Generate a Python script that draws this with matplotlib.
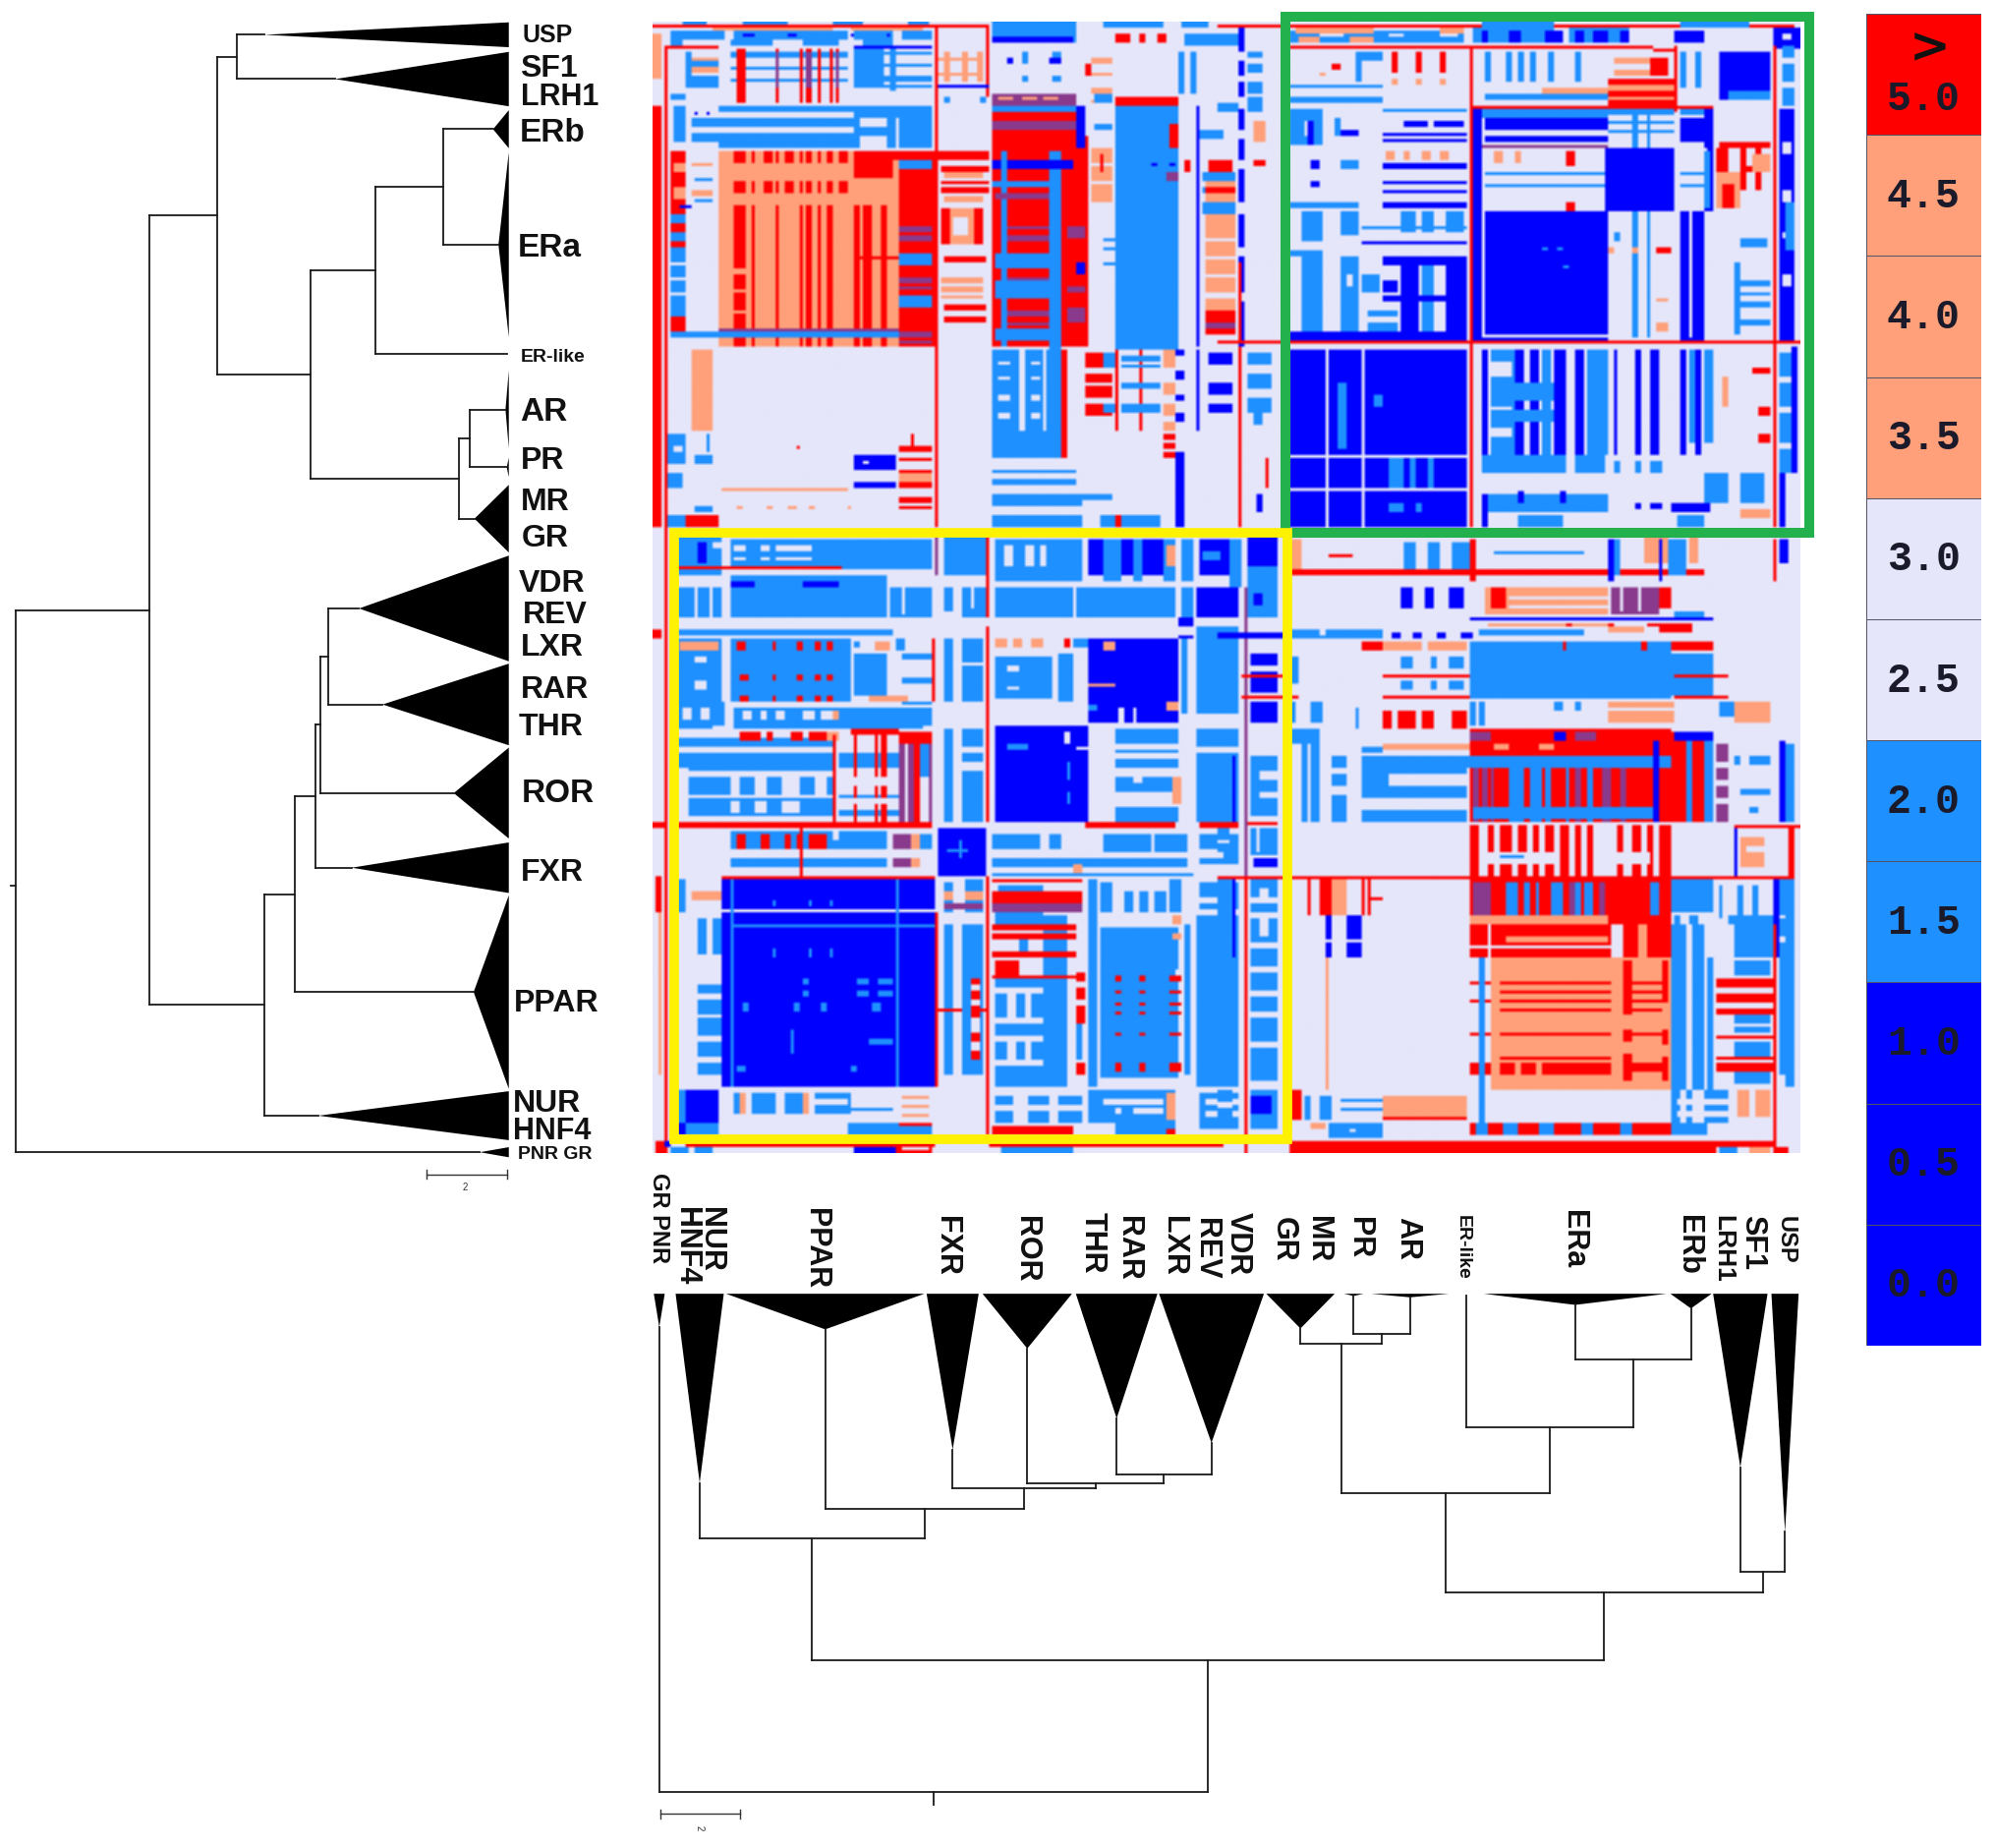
#!/usr/bin/env python3
# Distance matrix of nuclear receptor sequences with the two collapsed trees
import numpy as np
import matplotlib
matplotlib.use('Agg')
import matplotlib.pyplot as plt
from matplotlib.colors import ListedColormap, BoundaryNorm
from matplotlib.patches import Rectangle

FIG_W, FIG_H = 2031, 1881
N_ROWS, N_COLS = 376, 382

clade_names = ['USP', 'SF1', 'ERb', 'ERa', 'ERL', 'AR', 'PR', 'GR', 'VDR', 'RAR',
               'ROR', 'FXR', 'PPAR', 'NUR', 'PNR']
left_lo = [30, 68, 143, 197, 457, 478, 590, 625, 716, 855, 963, 1085, 1153, 1405, 1477]
left_hi = [62, 138, 192, 435, 457, 578, 615, 712, 852, 960, 1080, 1150, 1402, 1468, 1490]
left_tip = [640, 810, 1192, 1205, 1225, 1222, 1225, 1147, 868, 925, 1097, 850, 1145, 770, 1160]
bottom_lo = [1470, 1395, 1340, 1100, 1077, 955, 920, 820, 682, 575, 455, 383, 125, 60, 32]
bottom_hi = [1505, 1465, 1393, 1335, 1077, 1055, 945, 908, 817, 680, 570, 450, 380, 122, 46]
bottom_tip = [860, 715, 358, 350, 330, 333, 330, 403, 660, 605, 448, 675, 405, 750, 400]

# internal nodes: (depth on left tree, depth on bottom tree, child, child)
node_mid = (793, 732, 'VDR', 'RAR')
node_ror = (775, 750, node_mid, 'ROR')
node_fxr = (762, 762, node_ror, 'FXR')
node_ppar = (712, 808, node_fxr, 'PPAR')
node_nur = (638, 875, node_ppar, 'NUR')
node_er = (1072, 473, 'ERb', 'ERa')
node_erl = (908, 625, node_er, 'ERL')
node_ar = (1135, 415, 'AR', 'PR')
node_gr = (1110, 437, node_ar, 'GR')
node_ster = (750, 772, node_erl, node_gr)
node_usp = (572, 950, 'USP', 'SF1')
node_upper = (525, 995, node_usp, node_ster)
node_all = (360, 1148, node_upper, node_nur)
tree_root = (38, 1445, node_all, 'PNR')

left_labels = ['USP', 'SF1', 'LRH1', 'ERb', 'ERa', 'ER-like', 'AR', 'PR', 'MR', 'GR', 'VDR',
               'REV', 'LXR', 'RAR', 'THR', 'ROR', 'FXR', 'PPAR', 'NUR', 'HNF4', 'PNR GR']
left_label_x = [1262, 1256, 1258, 1256, 1252, 1258, 1256, 1258, 1260, 1260, 1254,
                1264, 1258, 1260, 1254, 1260, 1260, 1243, 1240, 1240, 1253]
left_label_y = [46, 88, 125, 171, 319, 460, 531, 593, 646, 693, 751,
                792, 833, 888, 936, 1021, 1123, 1291, 1420, 1455, 1485]
left_label_size = [18, 23, 22, 24, 24, 14, 24, 23, 23, 23, 23, 23, 23, 23, 23, 24, 23, 23, 23, 22, 14]

bottom_labels = ['GR PNR', 'NUR', 'HNF4', 'PPAR', 'FXR', 'ROR', 'THR', 'RAR', 'LXR', 'REV', 'VDR',
                 'GR', 'MR', 'PR', 'AR', 'ER-like', 'ERa', 'ERb', 'LRH1', 'SF1', 'USP']
bottom_label_x = [38, 105, 73, 240, 408, 511, 597, 643, 700, 742, 784,
                  842, 886, 940, 1002, 1073, 1215, 1363, 1408, 1446, 1488]
bottom_label_y = [50, 127, 127, 130, 148, 148, 140, 148, 148, 152, 140,
                  150, 148, 150, 150, 145, 135, 145, 145, 145, 148]
bottom_label_size = [17, 22, 22, 22, 22, 22, 22, 22, 22, 22, 22, 22, 22, 22, 22, 14, 22, 22, 19, 22, 17]

# ---- colour scale
level_codes = ['B', 'S', 'L', 'O', 'P', 'R']
level_colors = ['#0000FF', '#1E90FF', '#E6E6FA', '#FFA07A', '#8A3A8C', '#FF0000']
scale_labels = ['0.0', '0.5', '1.0', '1.5', '2.0', '2.5', '3.0', '3.5', '4.0', '4.5', '5.0']
scale_levels = ['B', 'B', 'B', 'S', 'S', 'L', 'L', 'O', 'O', 'O', 'R']

# ---- matrix, run-length style: (level, row ranges, column ranges), later entries win
heat_top_left = [
    ('R', '28-168', '0-3'), ('O', '4-19', '0-3'), ('R', '8-376', '4-5'), ('R', '1-2', '0-112'),
    ('R', '8-9', '4-22'), ('S', '3-6', '6-24 27-65 67-80 83-93'), ('B', '4-5', '30-34 45-48 66-67 78-79'),
    ('R', '1-168', '94-95'), ('R', '1-25', '111-112'), ('B', '21-22', '95-112'),
    ('S', '10-18', '11-13'), ('O', '12-13 15-17', '13-22'), ('S', '13-15 18-22', '11-22'), ('S', '24-26', '6-11'),
    ('S', '10-12 15-16 19-20', '26-65'), ('R', '9-27', '28-31 41-42 49-50 51-53 55-56 59-60 61-62'),
    ('P', '10-22', '41-42 51-53 61-62'), ('S', '9-22', '67-77'), ('B', '8-9', '67-93'),
    ('S', '10-11 14-15 18-20 21-22', '77-93'), ('S', '9-23', '79-81'), ('O', '10-20', '97-99 103-105 108-110'),
    ('O', '12-13 17-18', '95-110'),
    ('S', '28-30 32-35 37-42', '22-67'), ('S', '28-32', '67-93'), ('S', '28-42', '67-69 78-81 82-93'),
    ('S', '35-38', '69-78'), ('S', '28-40', '7-11'), ('S', '32-35 37-40', '13-22'), ('B', '30-31', '14-15 18-19'),
    ('S', '25-27', '97-99 109-111'),
    ('P', '24-28', '113-141'), ('O', '25-26', '115-120 123-128 130-135'), ('S', '28-30', '113-141'),
    ('R', '30-33 36-46', '113-141'), ('P', '33-36', '113-141'), ('S', '41-43', '113-120'), ('R', '38-46', '113-145'),
    ('B', '28-42', '141-144'),
    ('O', '43-108', '22-82'), ('R', '43-47 53-57', '27-31 33-34 37-40 41-42 44-47 49-50 51-53 55-56 58-60 62-65'),
    ('R', '43-52', '67-80'), ('R', '43-46', '79-112'), ('R', '61-108', '27-31 33-34 41-42 49-50 51-53 55-56 58-60 67-69 70-73 76-78'),
    ('O', '82-84 89-90 96-97', '27-31'), ('R', '78-79', '67-82'),
    ('R', '43-108', '82-94'), ('S', '46-49 77-81 91-95', '82-93'), ('P', '68-70 71-73 85-87 88-89 103-105 106-107', '82-93'),
    ('P', '102-103', '22-82'), ('S', '103-105', '6-82'),
    ('R', '43-62', '6-11'), ('O', '47-50 55-59', '7-11'), ('R', '62-75', '6-11'), ('S', '64-67 70-73', '6-11'),
    ('S', '75-98', '6-11'), ('L', '80-81 85-86 90-91', '6-11'), ('R', '98-103', '6-11'), ('O', '47-48 56-58', '13-20'),
    ('S', '59-60 52-53', '14-20'), ('B', '61-62', '9-13'),
    ('R', '48-50 53-54 55-57', '96-112'), ('O', '50-52 58-60', '97-110'), ('R', '62-74', '96-99 107-110'), ('O', '62-74', '99-107'),
    ('L', '65-71', '100-105'), ('R', '78-80 94-96 98-100', '97-111'), ('O', '85-92', '96-110'), ('L', '87-88 90-91', '96-110'),
    ('S', '48-106', '118-119'),
    ('R', '43-108', '113-145'), ('B', '46-49', '113-140'), ('S', '43-108', '116-118'), ('P', '68-69 71-73 85-87 96-98 100-101', '118-132'),
    ('S', '77-82 86-92 102-106', '114-132'), ('S', '53-55', '113-132'), ('P', '57-59', '114-132'),
    ('S', '43-145', '132-136'), ('B', '46-49', '132-140'), ('P', '68-72 88-90 95-100', '138-144'), ('B', '80-84', '141-144'),
    ('O', '42-60', '146-153'), ('L', '47-48 53-54', '146-153'), ('R', '44-50', '149-150'), ('S', '72-73 75-76 80-81', '150-154'),
    ('O', '12-14 17-18 22-24 26-27', '146-153'), ('R', '14-18', '144-146'), ('S', '24-27 34-36', '147-153'),
    ('S', '28-109', '154-175'), ('R', '25-28', '154-175'), ('B', '47-48', '166-168 172-174'), ('P', '50-53', '171-175'),
    ('S', '10-24', '175-177 179-181'), ('B', '28-108', '181-182'), ('S', '36-39', '182-190'),
    ('R', '46-50', '177-179 185-193'), ('O', '50-100', '184-194'), ('S', '50-53 55-57 60-64', '183-194'), ('R', '55-57 96-104', '184-194'),
    ('L', '72-73 78-79 84-85 90-92', '184-194'), ('P', '100-102', '184-194'), ('R', '34-42', '172-175'),
    ('S', '0-7', '113-141'), ('B', '5-7', '113-140'), ('S', '10-14 18-20', '123-125 133-136'), ('B', '12-14', '118-120 132-136'),
    ('S', '4-8', '177-195'), ('R', '4-7', '154-159 162-164 168-171'),
    ('O', '109-136', '13-20'), ('S', '137-147', '5-11'), ('L', '141-143', '7-10'), ('S', '137-143', '18-19'), ('S', '144-147', '14-20'),
    ('S', '150-155', '5-10'), ('S', '161-163', '14-20'), ('S', '164-168', '5-11'), ('R', '164-168', '11-22'),
    ('B', '144-149', '67-81'), ('L', '146-147', '70-72'), ('B', '153-155', '67-81'), ('O', '155-156', '23-65'),
    ('R', '141-143 145-146 149-150 153-155 158-160 161-162', '82-93'), ('O', '150-153', '82-93'), ('R', '137-141', '86-87'),
    ('R', '141-142', '48-49'), ('O', '161-162', '28-30 38-40 45-48 52-54 65-66'),
    ('S', '109-145', '113-122 124-130 131-136'), ('L', '113-114 118-119 124-126 130-132 136-138', '115-119 126-129'),
    ('S', '136-145', '113-136'), ('R', '109-145', '136-138'),
    ('S', '149-150 152-154', '113-141'), ('L', '151-152', '113-130'), ('S', '157-161', '113-143'), ('S', '157-159', '143-153'),
    ('S', '164-168', '113-143 149-169'), ('R', '164-168', '154-156'),
    ('R', '110-115 117-120 121-125 127-131', '144-153'), ('S', '110-115', '150-154'), ('R', '109-136', '154-155 162-163'),
    ('S', '111-113 114-115 120-122 127-130', '156-169'), ('S', '127-130', '150-154'),
    ('O', '109-136', '170-174'), ('L', '115-120 124-127 131-133', '170-174'), ('R', '137-145', '170-174'), ('L', '139-140 142-143', '170-174'),
    ('B', '109-111 116-119 124-126 130-133 143-168', '174-177'), ('B', '110-114 120-124 127-130', '185-193'),
    ('B', '109-136', '181-182'),
    # first rows below the yellow frame top
    ('S', '171-184', '8-23'), ('B', '173-180', '15-18'), ('L', '173-175', '20-23'), ('S', '172-182', '26-93'),
    ('L', '174-176 178-179', '27-31 36-39 41-53'), ('R', '181-182', '8-63'), ('P', '171-184', '94-95'),
    ('S', '171-184', '97-111'), ('S', '172-186', '114-143'), ('L', '174-181', '117-120 124-127 129-131'), ('B', '172-184', '145-150 156-160 163-170'),
    ('S', '172-186', '150-156 160-163 170-174'), ('O', '174-181', '171-174'), ('S', '172-186', '176-180'),
    ('B', '172-184', '182-195'), ('S', '176-179', '183-194'), ('S', '184-199', '26-78'), ('R', '171-205', '111-112'),
]

heat_top_right = [
    ('R', '8-9', '212-333'), ('R', '9-10', '333-341'), ('R', '1-2', '188-380'), ('S', '3-7', '212-270'), ('L', '4-5', '222-230 245-250 262-268'),
    ('O', '5-7', '215-222 232-240'), ('S', '2-7', '273-300 305-325'), ('B', '3-7', '276-278 285-289 297-303 307-310 313-318 322-325 340-350'),
    ('B', '2-9', '373-382'), ('L', '4-6', '376-379'), ('R', '8-168', '272-273'), ('R', '8-30', '340-341'), ('R', '28-29', '273-353'),
    ('B', '10-26', '355-372'), ('S', '22-26', '358-372'), ('B', '10-23', '358-372'), ('R', '8-168', '373-374'),
    ('R', '19-28', '318-340'), ('O', '21-23 25-26', '318-340'), ('R', '12-18', '332-338'), ('O', '12-14 16-18', '320-332'), ('O', '22-24', '296-318'),
    ('S', '10-20', '277-279 284-286 288-290 292-294 298-300 307-309'), ('S', '24-26', '277-318'), ('S', '10-22', '342-344 347-349'),
    ('S', '10-13', '234-243'), ('S', '21-22', '212-243'), ('S', '25-27', '212-243'), ('S', '10-20', '234-236'), ('R', '10-17', '246-248 254-256 262-264'),
    ('O', '17-18', '222-224'), ('R', '14-16', '226-229'), ('O', '19-21', '246-248 254-256 262-264'),
    ('S', '10-30', '198-203'), ('L', '12-14 17-20 24-25', '198-203'), ('B', '2-108', '195-197'), ('L', '10-13 18-20 25-29 36-39 46-49 60-64 75-78 90-93', '195-197'),
    ('O', '33-40', '200-204'), ('R', '46-48', '200-204'), ('S', '27-30', '188-195'),
    ('S', '29-41', '212-223'), ('L', '33-38', '217-219'), ('B', '33-41', '218-220'), ('S', '32-38', '227-229'), ('B', '36-38', '229-235'),
    ('B', '33-35', '250-258 260-270'), ('B', '37-40', '243-271'), ('S', '29-30', '243-271'), ('L', '38-39', '243-271'),
    ('B', '29-106', '273-276'), ('S', '29-32', '276-318'), ('B', '32-36 38-40', '277-318'), ('L', '36-38', '279-318'), ('P', '41-42', '276-318'),
    ('S', '29-31', '318-340'), ('S', '33-34 36-37', '318-340'), ('S', '29-42', '326-328 331-332'), ('B', '32-40', '342-350'), ('S', '29-31', '342-350'),
    ('B', '29-63', '350-353'), ('L', '42-60', '350-351'), ('R', '40-42', '355-372'),
    ('B', '47-49', '243-271'), ('B', '53-54 56-57 60-62', '243-271'), ('O', '43-46', '244-247 250-252 256-259 262-265'), ('B', '46-49', '219-222'),
    ('S', '46-49', '229-235'), ('B', '53-55', '219-222'), ('S', '60-62', '212-235'),
    ('B', '42-63', '317-340'), ('S', '50-51 54-55', '277-317'), ('R', '43-48 60-63', '304-307'), ('O', '43-47', '280-283 287-289'),
    ('S', '43-62', '350-352'), ('S', '50-51 54-55', '342-350'),
    ('R', '42-50', '354-358'), ('O', '50-62', '354-362'), ('R', '54-62', '356-360'), ('R', '42-56', '362-364 367-369'), ('R', '48-50', '362-372'),
    ('O', '44-50', '366-372'), ('B', '29-106', '375-380'), ('L', '40-44 56-60 70-72 84-88', '376-379'),
    ('S', '63-103', '216-223'), ('L', '73-76', '216-223'), ('S', '63-71', '229-235'), ('S', '78-103', '229-235'), ('L', '84-88', '231-233'),
    ('S', '68-69', '236-271'), ('B', '73-74', '236-271'), ('S', '63-70', '249-254 256-260 264-270'), ('B', '78-81', '243-271'), ('S', '76-78', '212-220'),
    ('B', '81-103', '249-255 264-271'), ('S', '81-103', '256-260'), ('B', '91-93', '243-271'), ('S', '96-98 100-103', '238-248'), ('L', '87-89', '240-248'),
    ('B', '86-90', '243-248'), ('B', '103-106', '212-271'), ('S', '84-90', '236-242'),
    ('B', '63-107', '276-318'), ('L', '63-105', '276-277'), ('L', '104-105', '277-318'), ('S', '75-76', '296-298 301-303'), ('S', '81-82', '303-305'),
    ('S', '63-105', '326-328 331-332'), ('B', '63-107', '342-350'), ('L', '63-105', '345-346'), ('S', '70-73', '320-322'), ('R', '75-77', '334-339'), ('O', '75-77', '318-320 326-328'),
    ('O', '92-93 100-103', '334-338'), ('S', '72-75', '362-371'), ('S', '86-88 90-91 93-95 99-101', '362-372'), ('S', '80-104', '360-362'),
    ('R', '106-107', '188-382'), ('R', '80-106', '195-196'),
    ('B', '109-168', '212-271'), ('L', '109-168', '224-225 236-237'), ('L', '155-156', '212-271'), ('S', '144-155', '245-250 252-254 258-260'),
    ('S', '120-142', '228-231'), ('S', '124-128', '240-243'), ('S', '160-163', '245-250 254-256'), ('L', '144-145', '212-271'),
    ('B', '109-144', '276-278 287-290 292-295 300-304 307-310'), ('S', '109-144', '279-287 296-299 311-318'), ('L', '113-118 128-131 135-138', '279-286'),
    ('S', '120-126 129-133', '279-300'), ('B', '109-144', '320-321 327-329 332-335 342-344 347-349'), ('S', '109-140', '345-347 350-353'),
    ('S', '144-150', '276-304 307-317'), ('S', '146-150', '320-322 327-329 332-336'), ('B', '160-162', '327-329 332-336'),
    ('S', '157-163', '276-318'), ('B', '156-160', '288-290 302-304'), ('S', '164-168', '288-303'), ('B', '157-168', '276-278'), ('B', '160-163', '339-352'),
    ('S', '164-168', '341-350'), ('S', '110-150', '375-380'), ('L', '118-120 128-130 140-142', '375-380'), ('B', '150-168', '375-377'), ('R', '108-168', '373-374'),
    ('O', '118-128', '356-358'), ('R', '128-131 137-140', '368-372'), ('R', '115-117', '366-372'),
    ('O', '162-165', '362-372'), ('S', '150-160', '350-358 362-370'), ('R', '145-155', '204-205'), ('R', '108-168', '195-196'),
    ('S', '110-130', '198-206'), ('L', '114-117 122-125', '198-206'), ('S', '125-134', '200-203'), ('B', '157-163', '201-203'),
    # rows just under the green frame
    ('R', '177-178', '225-233'), ('O', '172-182', '212-216'), ('R', '182-184', '212-350'), ('R', '172-186', '272-274'),
    ('S', '173-177', '250-254 258-262 266-272'), ('S', '176-182', '250-254 258-262 266-272'), ('S', '176-177', '280-310'),
    ('O', '171-180', '330-338 345-348'), ('S', '172-184', '320-322 338-344'), ('B', '172-186', '318-320 335-336'), ('R', '172-186', '373-374'), ('B', '172-180', '375-378'),
    ('B', '171-181', '198-208'), ('S', '181-188', '198-208'), ('B', '172-183', '189-192'), ('S', '172-188', '192-196'),
]

heat_bottom_left = [
    ('S', '188-199', '8-23'), ('L', '188-199', '14-15 19-20'), ('S', '188-199', '26-78 79-93'), ('L', '188-197', '83-84'), ('S', '188-196', '97-100'),
    ('S', '188-198', '103-111'), ('L', '188-195', '106-107'), ('S', '188-198', '114-140 141-174'), ('B', '188-198', '181-195'), ('S', '188-198', '176-180'),
    ('B', '198-205', '175-180'), ('L', '201-204', '175-180'), ('S', '202-204', '8-80'), ('R', '202-205', '0-3'),
    ('R', '205-266', '111-112'), ('S', '205-226', '26-66'), ('S', '205-226', '8-23'), ('L', '211-213 219-222', '14-18'), ('O', '206-209', '9-22'),
    ('R', '206-209', '28-31 40-41 48-50 54-56 58-60'), ('R', '217-219 224-226', '29-32 40-41 48-50 54-56 58-60'), ('O', '206-209', '74-79'),
    ('S', '210-224', '67-78'), ('S', '206-208', '67-69'), ('S', '205-209', '81-84'), ('S', '210-212 218-220 226-227', '83-93'), ('O', '224-226', '72-85'),
    ('R', '205-226', '93-94'), ('S', '205-226', '97-100'), ('S', '205-226', '103-110'), ('L', '213-214', '103-110'),
    ('O', '205-208', '114-118 120-123 126-130'), ('R', '205-208', '137-139'), ('S', '205-208', '140-145'), ('S', '211-225', '114-133'), ('L', '214-216 221-222', '118-122'),
    ('S', '210-226', '135-140'), ('S', '205-230', '176-178'), ('S', '201-230', '181-195'),
    ('S', '226-234', '8-24'), ('L', '228-233', '10-13 16-19'), ('S', '228-234', '27-93'), ('L', '229-233', '30-33 36-38 41-44 50-54 56-60'), ('O', '229-233', '60-62'),
    ('B', '205-233', '145-175'), ('O', '206-209', '150-154'), ('O', '220-221', '145-154'), ('O', '226-229', '171-175'), ('L', '228-233', '155-157 160-161'),
    ('S', '227-229', '145-148'), ('S', '232-235', '8-20 27-90'),
    ('B', '234-266', '114-145'), ('L', '236-240', '137-139'), ('L', '241-242', '141-145'), ('S', '246-252 256-260', '138-139'), ('S', '240-242', '118-125'),
    ('S', '238-266', '12-60'), ('L', '241-243 249-251 257-258 264-266', '12-60'), ('L', '251-257', '26-29 34-38 43-49 54-58'), ('L', '259-263', '26-29 34-38 43-49'),
    ('R', '236-239', '29-36 38-40 46-50 52-58'), ('O', '236-239', '58-62'), ('R', '235-237', '66-82'), ('L', '237-240', '62-82'),
    ('S', '243-248 257-260 262-264', '62-82'), ('S', '238-248', '8-14'), ('L', '241-243', '8-14'),
    ('R', '237-266', '60-61 67-68 74-75 76-78'), ('R', '236-240', '82-93'), ('P', '240-266', '82-84 85-87'), ('R', '240-266', '87-89'), ('S', '240-252', '89-92'),
    ('L', '251-257', '89-92'), ('P', '240-266', '92-93'), ('L', '251-254 258-260', '62-82'),
    ('S', '235-266', '97-100'), ('S', '243-266', '103-110'), ('S', '235-241', '103-110'), ('L', '246-249', '103-110'),
    ('S', '235-240 242-248 251-256 261-266', '154-175'), ('L', '243-245', '154-175'), ('L', '251-253', '160-163'), ('O', '251-260', '173-176'), ('S', '235-266', '181-195'), ('L', '241-243', '181-195'),
    ('R', '266-268', '8-93 144-174 182-195'), ('R', '266-268', '0-5'),
    ('S', '269-275 278-281', '26-78'), ('L', '269-272', '60-62'), ('R', '270-275', '28-31 36-39 44-46 48-50 52-58'), ('R', '268-284', '49-50'), ('S', '270-275', '80-93'),
    ('O', '270-275 278-281', '86-89'), ('P', '270-275 278-281', '80-86'), ('B', '268-284', '95-111'), ('S', '272-278', '102-103'), ('S', '275-276', '98-105'),
    ('S', '270-275', '113-129 132-136'), ('S', '270-276', '150-166 167-178'), ('S', '278-281', '113-178'), ('S', '270-280', '182-195'), ('L', '275-278', '182-190'),
    ('S', '283-284', '113-180'), ('O', '280-283', '140-143'),
    ('B', '285-354', '23-94'), ('R', '284-285', '23-94'), ('L', '295-296', '23-94'), ('S', '285-354', '81-82'), ('S', '300-301', '26-94'), ('S', '285-354', '26-27'),
    ('S', '292-294 308-311', '40-41 52-53 59-60'), ('S', '318-320 322-324', '50-52 68-72 75-80'), ('S', '326-329', '30-32 47-49 56-58 73-76'), ('S', '338-340', '72-80'),
    ('S', '335-343', '46-47'), ('S', '347-349', '66-68 28-31'), ('R', '296-354', '94-95'),
    ('S', '285-296', '8-11'), ('O', '289-292', '13-23'), ('L', '296-298', '8-23'), ('S', '298-310', '15-18 20-23'), ('S', '320-350', '15-23'), ('L', '323-325 330-331 337-339 344-346', '15-23'),
    ('R', '284-296', '1-3'), ('O', '296-350', '2-3'),
    ('S', '286-296', '97-100'), ('O', '289-292', '97-100 104-110'), ('S', '285-296', '104-110'), ('O', '289-292', '104-110'), ('P', '293-295', '97-110'),
    ('S', '300-350', '97-100 103-110'), ('R', '328-329', '95-111'), ('R', '318-345', '106-109'), ('L', '320-322 325-327 331-336 339-342', '106-109'), ('S', '318-345', '103-106'),
    ('R', '284-370', '111-112'),
    ('R', '285-286', '113-143'), ('R', '289-293', '113-143'), ('P', '293-296', '113-143'), ('S', '287-289', '115-130'), ('L', '287-289', '130-140'),
    ('S', '297-354', '130-138'), ('S', '296-300', '114-130'), ('R', '300-302 303-305 309-311 317-318', '113-141'), ('L', '305-309', '113-122 125-130'), ('S', '305-309', '122-125'),
    ('S', '318-354', '114-130'), ('L', '321-323 331-333 337-339 345-347', '114-130'), ('L', '323-331 339-345', '118-121 124-126'), ('R', '312-318', '114-122'),
    ('R', '316-333', '141-144'), ('L', '319-321 325-327', '141-144'), ('R', '346-350', '141-144'), ('S', '333-345', '141-143'),
    ('S', '285-354', '145-148'), ('S', '301-351', '149-175'), ('L', '285-301', '154-175'), ('S', '286-296', '149-153'), ('S', '289-296', '157-160 162-165 167-171'),
    ('O', '297-300 303-305', '173-176'), ('L', '315-317', '174-175'), ('S', '285-296', '172-176'),
    ('R', '317-319 322-323 326-327 329-330', '154-156 162-164 172-176'), ('R', '346-349', '154-156 162-164 172-176'), ('R', '336-337', '154-156 162-164 172-176'),
    ('S', '297-354', '181-195'), ('S', '286-295', '182-195'), ('L', '291-293', '182-190'), ('S', '300-350', '177-179'),
    ('B', '355-366', '11-22'), ('S', '355-370', '8-11'), ('S', '366-370', '11-22'), ('B', '366-370', '8-11'),
    ('S', '356-363', '27-29 33-41 44-52 54-65'), ('L', '358-360', '54-80'), ('S', '361-362', '54-80'), ('S', '356-363', '65-66'), ('O', '356-363', '29-31 50-52'),
    ('O', '357-358 360-361 363-364', '83-92'), ('S', '366-370', '65-82'), ('R', '366-367', '82-93'), ('S', '367-370', '82-93'),
    ('R', '367-370', '113-140'), ('S', '357-366', '114-120 125-132 135-143'), ('L', '360-362', '114-143'), ('S', '355-366', '145-174'), ('L', '358-360', '150-170'), ('L', '361-363', '154-156 160-170'),
    ('O', '356-365', '171-174'), ('S', '366-370', '154-174'), ('R', '368-370', '171-174'), ('S', '356-368', '182-195'), ('L', '358-360 362-364', '184-195'),
    ('R', '372-374', '11-94'), ('R', '372-374', '112-190'), ('B', '374-376', '67-81'), ('R', '374-376', '81-93'), ('L', '374-375', '83-92'), ('S', '374-376', '116-140'),
    ('R', '372-376', '1-4'), ('B', '372-374', '4-6'), ('S', '374-376', '6-12 14-20'),
]

heat_bottom_right = [
    ('P', '188-285', '197-198'), ('R', '285-376', '197-198'), ('B', '188-198', '188-193'), ('S', '188-198', '198-208'), ('B', '190-194', '200-203'),
    ('B', '188-195', '249-253 257-260 265-270'), ('O', '188-197', '277-318'), ('L', '191-192 194-195', '285-318'), ('R', '188-195', '279-284 335-339'), ('P', '188-197', '319-335'),
    ('L', '188-196', '322-323 328-329'), ('B', '198-199', '272-353'), ('O', '200-201', '278-318'), ('R', '200-201', '304-306 318-320 331-335'),
    ('S', '196-198', '340-350'), ('S', '202-205', '212-243'), ('L', '202-204', '222-224'), ('B', '203-205', '188-212 246-249 253-256 261-264 269-273'),
    ('S', '202-204', '275-310'), ('O', '201-203', '318-330'), ('R', '200-203', '335-346'),
    ('S', '206-225', '272-339'), ('S', '210-224', '339-353'), ('R', '206-209', '339-353'), ('R', '206-209', '303-304 329-331'),
    ('R', '206-209', '236-243'), ('O', '206-209', '243-256 258-271'), ('S', '211-215 219-222', '249-253 259-261 265-270'), ('R', '217-218 224-225', '243-272'),
    ('R', '217-218 224-225', '340-358'), ('B', '210-223', '199-208'), ('B', '226-233', '199-208'), ('L', '214-216', '199-208'), ('R', '217-218 224-225', '196-215'),
    ('S', '211-220', '212-215'), ('S', '226-233', '212-214 219-223'), ('S', '228-235', '234-235'), ('R', '229-235', '243-246 248-254 256-260 266-271'),
    ('S', '226-234', '272-274 275-277'), ('O', '226-233', '318-340 360-372'), ('L', '228-229', '318-340'), ('S', '226-231', '355-360'), ('S', '226-229', '300-303 307-309'),
    ('S', '235-240', '212-222'), ('R', '235-266', '272-339'), ('P', '236-239', '272-279 307-314'), ('B', '236-239', '300-304 339-353'), ('R', '236-239', '339-340'),
    ('S', '244-248', '236-339'), ('S', '241-243', '236-243'), ('O', '240-242', '243-272 280-285 295-300'), ('S', '248-266', '285-290 297-299 304-305'),
    ('S', '248-266', '292-296'), ('S', '248-266', '311-313'), ('P', '248-266', '273-275 276-278 279-280 307-309 316-319 322-324'),
    ('S', '261-265', '273-333'), ('B', '239-266', '333-335'), ('R', '239-266', '339-344'), ('S', '239-266', '344-346'), ('R', '239-266', '346-350'), ('S', '239-266', '350-353'),
    ('P', '240-266', '354-358'), ('L', '246-248 252-254 258-260', '354-358'), ('S', '244-247', '360-362 365-372'), ('S', '255-257', '362-372'), ('S', '261-263', '365-368'),
    ('B', '239-266', '375-377'), ('S', '240-266', '377-380'),
    ('S', '244-262', '236-243'), ('S', '248-250 254-258 262-266', '243-271'), ('S', '262-266', '236-243'), ('L', '258-262', '236-243'), ('S', '250-254', '243-245'),
    ('S', '238-266', '216-218 219-222'), ('S', '244-266', '226-231'), ('L', '248-250 254-257', '226-231'), ('S', '244-264', '199-208'), ('L', '249-252 256-258', '202-208'), ('B', '244-266', '193-194'),
    ('R', '266-267', '188-194 198-208'), ('R', '267-284', '272-339'), ('L', '267-284', '275-278 280-282 286-288 291-293 295-297 300-302 305-307 309-311 313-321 323-326 329-331 333-335'),
    ('L', '276-280', '278-300 320-332'), ('S', '277-278', '282-290'), ('B', '268-284', '360-361'), ('R', '267-268', '360-382'), ('O', '271-281', '362-370'), ('L', '274-276', '364-372'), ('R', '267-284', '378-380'),
    ('S', '268-277', '199-208'), ('L', '268-276', '201-202'), ('B', '278-281', '200-208'), ('S', '268-276', '188-192'), ('L', '272-273', '188-192'),
    ('R', '284-285', '188-380'),
    ('R', '285-297', '272-339'), ('P', '286-297', '273-279'), ('S', '286-297', '284-288 290-292 294-295 299-303 307-309 310-313 332-335'), ('P', '286-297', '305-307 315-317'),
    ('S', '285-296', '339-353'), ('S', '287-298', '355-356 361-363 366-368'), ('R', '285-297', '218-219 222-226 236-237 238-239'), ('O', '285-297', '226-231'), ('R', '291-292', '238-243'),
    ('S', '285-345', '188-193'), ('B', '285-311', '193-194'), ('S', '285-352', '199-208'), ('L', '291-293 296-298 306-308 314-316 322-324 329-331 339-341', '199-208'), ('L', '288-292 298-304', '202-205'),
    ('B', '285-311', '373-375'), ('S', '285-350', '375-380'), ('L', '297-298 304-306', '375-380'),
    ('B', '297-311', '224-226 231-236'), ('L', '305-306', '224-226 231-236'), ('O', '311-355', '224-225'),
    ('R', '297-300', '272-339'), ('O', '297-300', '272-318'), ('R', '300-311', '272-319'), ('O', '304-306', '284-318'), ('L', '300-311', '278-279'), ('R', '300-311', '323-339'), ('O', '300-311', '328-331'), ('L', '307-308', '272-319'),
    ('S', '300-311', '339-344 346-350'), ('S', '297-300', '340-342 345-348'), ('S', '300-311', '360-373'), ('S', '297-300', '358-373'),
    ('O', '311-355', '279-339'), ('R', '319-320 322-323 325-326 328-329 336-337 344-345', '282-319'), ('R', '346-350', '282-319'),
    ('O', '346-350', '287-289 294-296'), ('R', '312-352', '323-326'), ('O', '330-335 339-343', '323-326'), ('R', '312-352', '336-338'), ('O', '326-335 340-344', '336-338'),
    ('R', '319-320 322-323 325-326 328-329 336-337 346-349', '326-336'), ('R', '319-320 325-326 336-337 346-350', '272-279'), ('S', '311-355', '275-277'),
    ('S', '311-355', '339-344 346-350 351-353'), ('R', '318-321 323-326 328-330 337-338 344-345', '354-373'), ('R', '346-349', '354-373'),
    ('S', '312-317', '360-372'), ('S', '330-336 339-344', '360-372'), ('L', '333-334', '360-372'), ('S', '349-353', '360-372'),
    ('S', '285-354', '377-380'), ('R', '300-376', '373-374'),
    ('O', '357-364', '243-271'), ('R', '364-365', '243-271'), ('R', '355-365', '212-216'), ('S', '357-365', '217-219 222-226'), ('S', '358-359 361-362', '229-243'),
    ('S', '366-371', '225-243'), ('O', '366-368', '219-224'), ('L', '368-369', '232-234'), ('R', '366-370', '272-339'), ('S', '366-370', '274-278 283-288 295-300 309-313 322-326'),
    ('S', '355-366', '275-277'), ('S', '355-366', '339-342 344-346 350-358'), ('L', '358-360 362-364', '341-358'), ('O', '355-364', '361-372'), ('L', '355-364', '365-367'), ('S', '366-370', '339-351'),
    ('S', '355-368', '188-193'), ('L', '359-361', '188-193'), ('S', '355-368', '199-208'), ('B', '357-363', '199-206'), ('L', '368-370', '199-208'),
    ('R', '372-374', '212-373'), ('R', '374-376', '212-354'), ('S', '374-376', '355-361'), ('O', '374-376', '365-372'), ('R', '374-376', '373-378'),
]

heat_details = [
    ('S', '0-1', '10-18 30-45 60-70 85-92'), ('O', '2-3', '20-60 66-90'), ('S', '6-8', '6-10 26-40 50-62 70-80'),
    ('S', '60-76', '377-380'), ('B', '108-150', '379-381'), ('S', '8-28', '376-380'), ('L', '12-14 20-22', '376-380'),
    ('S', '0-2', '150-170 176-185'), ('O', '2-4', '214-240 262-270'), ('S', '0-2', '276-300 342-365'), ('B', '186-188', '26-34 50-62'),
    ('L', '205-226', '66-67'), ('S', '236-240', '181-195'), ('L', '198-201', '8-175 181-195'),
]


def expand_ranges(text):
    out = []
    for part in text.split():
        lo, hi = part.split('-')
        out.append(np.arange(int(lo), int(hi)))
    return np.concatenate(out)


# build the matrix of levels
grid = np.full((N_ROWS, N_COLS), level_codes.index('L'))
for block in (heat_top_left, heat_top_right, heat_bottom_left, heat_bottom_right, heat_details):
    for code, rows, cols in block:
        r = expand_ranges(rows)
        c = expand_ranges(cols)
        grid[np.ix_(r[r < N_ROWS], c[c < N_COLS])] = level_codes.index(code)

cmap = ListedColormap(level_colors)
norm = BoundaryNorm(np.arange(len(level_codes) + 1) - 0.5, cmap.N)

plt.rcParams['font.family'] = ['Liberation Sans', 'DejaVu Sans']
fig = plt.figure(figsize=(FIG_W / 100, FIG_H / 100), dpi=100)


def px_axes(x0, y0, x1, y1):
    return fig.add_axes([x0 / FIG_W, 1 - y1 / FIG_H, (x1 - x0) / FIG_W, (y1 - y0) / FIG_H])


# ---- heat map
ax = px_axes(664, 23, 1832, 1174)
ax.imshow(grid, cmap=cmap, norm=norm, aspect='auto', interpolation='bilinear', interpolation_stage='rgba')
ax.set_xlim(-0.5, N_COLS - 0.5)
ax.set_ylim(N_ROWS - 0.5, -0.5)
ax.axis('off')
ax.add_patch(Rectangle((210, -2), 174.5, 171.5, fill=False, ec='#22B14C', lw=7.2, clip_on=False))
ax.add_patch(Rectangle((6.8, 169.4), 204, 201.4, fill=False, ec='#FFF200', lw=7, clip_on=False))


# ---- trees
def draw_tree(tree_ax, depth_idx, lo, hi, tip, base, vertical_leaves):
    span_lo = dict(zip(clade_names, lo))
    span_hi = dict(zip(clade_names, hi))
    tips = dict(zip(clade_names, tip))

    def seg(d0, d1, p0, p1, lw=1.3):
        if vertical_leaves:
            tree_ax.plot([p0, p1], [d0, d1], color='#1a1a1a', lw=lw, solid_capstyle='projecting')
        else:
            tree_ax.plot([d0, d1], [p0, p1], color='#1a1a1a', lw=lw, solid_capstyle='projecting')

    def walk(node):
        # returns (position along the leaves, depth)
        if isinstance(node, str):
            a, b = span_lo[node], span_hi[node]
            if vertical_leaves:
                tree_ax.fill([a, b, (a + b) / 2], [base, base, tips[node]], color='black', lw=0)
            else:
                tree_ax.fill([base, base, tips[node]], [a, b, (a + b) / 2], color='black', lw=0)
            return (a + b) / 2, tips[node]
        d = node[depth_idx]
        pa, da = walk(node[2])
        pb, db = walk(node[3])
        seg(d, d, pa, pb)
        seg(d, da, pa, pa)
        seg(d, db, pb, pb)
        return (pa + pb) / 2, d

    return walk(tree_root)


ax_left = px_axes(0, 0, 660, 1240)
ax_left.set_xlim(0, 1568)
ax_left.set_ylim(1568, 0)
ax_left.axis('off')
pos, depth = draw_tree(ax_left, 0, left_lo, left_hi, left_tip, 1230, False)
ax_left.plot([25, depth], [1140, 1140], color='#1a1a1a', lw=1.3)
for name, x, y, size in zip(left_labels, left_label_x, left_label_y, left_label_size):
    ax_left.text(x, y, name, fontsize=size, fontweight='bold', ha='left', va='center', color='#111111')
ax_left.plot([1030, 1225], [1512, 1512], color='#333333', lw=1)
ax_left.plot([1030, 1030], [1506, 1518], color='#333333', lw=1)
ax_left.plot([1225, 1225], [1506, 1518], color='#333333', lw=1)
ax_left.text(1125, 1528, '2', fontsize=7, ha='center', va='center', color='#333333')

ax_bottom = px_axes(640, 1170, 1880, 1880)
ax_bottom.set_xlim(0, 1568)
ax_bottom.set_ylim(1568, 0)
ax_bottom.axis('off')
pos, depth = draw_tree(ax_bottom, 1, bottom_lo, bottom_hi, bottom_tip, 325, True)
ax_bottom.plot([pos, pos], [depth, 1472], color='#1a1a1a', lw=1.3)
for name, x, y, size in zip(bottom_labels, bottom_label_x, bottom_label_y, bottom_label_size):
    ax_bottom.text(x, y, name, fontsize=size, fontweight='bold', rotation=270, ha='center', va='top', color='#111111')
ax_bottom.plot([40, 143], [1494, 1494], color='#333333', lw=1)
ax_bottom.plot([40, 40], [1484, 1504], color='#333333', lw=1)
ax_bottom.plot([143, 143], [1484, 1504], color='#333333', lw=1)
ax_bottom.text(90, 1523, '2', fontsize=7, rotation=270, ha='center', va='center', color='#333333')

# ---- colour key
ax_key = px_axes(1899, 15, 2016, 1370)
key_cells = np.array([[level_codes.index(c)] for c in scale_levels])
ax_key.pcolormesh(key_cells, cmap=cmap, norm=norm, edgecolors='#55556a', linewidth=0.6)
ax_key.set_xlim(0, 1)
ax_key.set_ylim(0, len(scale_labels))
ax_key.axis('off')
for i, lab in enumerate(scale_labels):
    y = i + 0.5
    if lab == '5.0':
        y = i + 0.3
        ax_key.text(0.55, i + 0.72, '>', fontsize=36, fontweight='bold', family='DejaVu Sans',
                    ha='center', va='center', color='#111111')
    ax_key.text(0.5, y, lab, fontsize=30, fontweight='bold', family='Liberation Mono', ha='center', va='center', color='#1a1a2a')

fig.savefig('out.png', dpi=100)
